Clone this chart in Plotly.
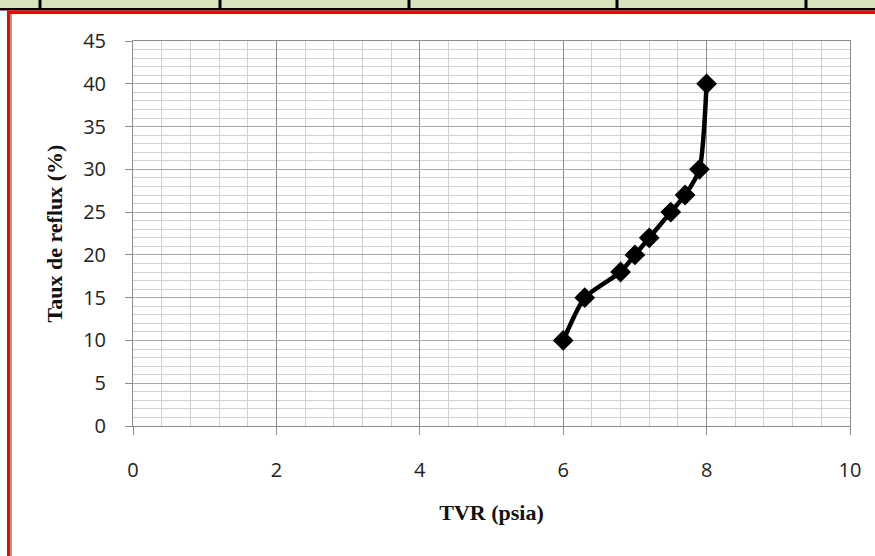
import plotly.graph_objects as go

tvr = [6.0, 6.3, 6.8, 7.0, 7.2, 7.5, 7.7, 7.9, 8.0]
reflux = [10, 15, 18, 20, 22, 25, 27, 30, 40]
x_ticks = [0, 2, 4, 6, 8, 10]
y_ticks = [0, 5, 10, 15, 20, 25, 30, 35, 40, 45]

W, H = 875, 556
L, R, T, B = 133, 25, 41, 130
PW, PH = W - L - R, H - T - B

def px(x):
    return (x - L) / PW

def py(y):
    return (H - B - y) / PH

fig = go.Figure()
fig.add_trace(go.Scatter(
    x=tvr, y=reflux, mode="lines+markers",
    line=dict(color="black", width=4.5, shape="spline", smoothing=0.6),
    marker=dict(symbol="diamond", size=16, color="black"),
    showlegend=False,
))

shapes = []
# top green bar and separators
shapes.append(dict(type="rect", xref="paper", yref="paper", x0=px(0), x1=px(W), y0=py(0), y1=py(9),
                   fillcolor="#d8e4bc", line_width=0, layer="above"))
for sx in [40, 220, 409, 617, 806]:
    shapes.append(dict(type="rect", xref="paper", yref="paper", x0=px(sx - 1.5), x1=px(sx + 1.5),
                       y0=py(0), y1=py(9), fillcolor="black", line_width=0, layer="above"))
shapes.append(dict(type="rect", xref="paper", yref="paper", x0=px(0), x1=px(W), y0=py(8), y1=py(10.5),
                   fillcolor="black", line_width=0, layer="above"))
shapes.append(dict(type="rect", xref="paper", yref="paper", x0=px(7), x1=px(W), y0=py(10.5), y1=py(14),
                   fillcolor="#ff0000", line_width=0, layer="above"))
shapes.append(dict(type="rect", xref="paper", yref="paper", x0=px(7), x1=px(10), y0=py(10.5), y1=py(H),
                   fillcolor="#ff0000", line_width=0, layer="above"))
shapes.append(dict(type="rect", xref="paper", yref="paper", x0=px(10), x1=px(12), y0=py(14), y1=py(H),
                   fillcolor="#a0a0a0", line_width=0, layer="above"))

fig.update_layout(
    width=W, height=H,
    margin=dict(l=L, r=R, t=T, b=B),
    paper_bgcolor="white", plot_bgcolor="white",
    shapes=shapes,
    font=dict(family="Open Sans, Liberation Sans, sans-serif", color="#222"),
)

fig.update_xaxes(
    range=[0, 10], tickmode="array", tickvals=x_ticks, ticktext=[str(v) for v in x_ticks],
    showgrid=True, gridcolor="#8c8c8c", gridwidth=1,
    minor=dict(dtick=0.4, showgrid=True, gridcolor="#cfcfcf", gridwidth=1, ticks=""),
    ticks="outside", ticklen=8, tickcolor="#8c8c8c", ticklabelstandoff=18,
    showline=True, linecolor="#8c8c8c", linewidth=1, mirror=True, zeroline=False,
    tickfont=dict(size=20, family="Open Sans, sans-serif", color="#222"),
    title=dict(text="<b>TVR (psia)</b>", font=dict(family="Liberation Serif, serif", size=22, color="#111"), standoff=22),
)
fig.update_yaxes(
    range=[0, 45], tickmode="array", tickvals=y_ticks, ticktext=[str(v) for v in y_ticks],
    showgrid=True, gridcolor="#a8a8a8", gridwidth=1,
    minor=dict(dtick=1, showgrid=True, gridcolor="#d2d2d2", gridwidth=1, ticks=""),
    ticks="outside", ticklen=7, tickcolor="#8c8c8c", ticklabelstandoff=15,
    showline=True, linecolor="#8c8c8c", linewidth=1, mirror=True, zeroline=False,
    tickfont=dict(size=20, family="Open Sans, sans-serif", color="#222"),
    title=dict(text="<b>Taux de reflux (%)</b>", font=dict(family="Liberation Serif, serif", size=22, color="#111"), standoff=14),
)

fig.write_html("out.html")
